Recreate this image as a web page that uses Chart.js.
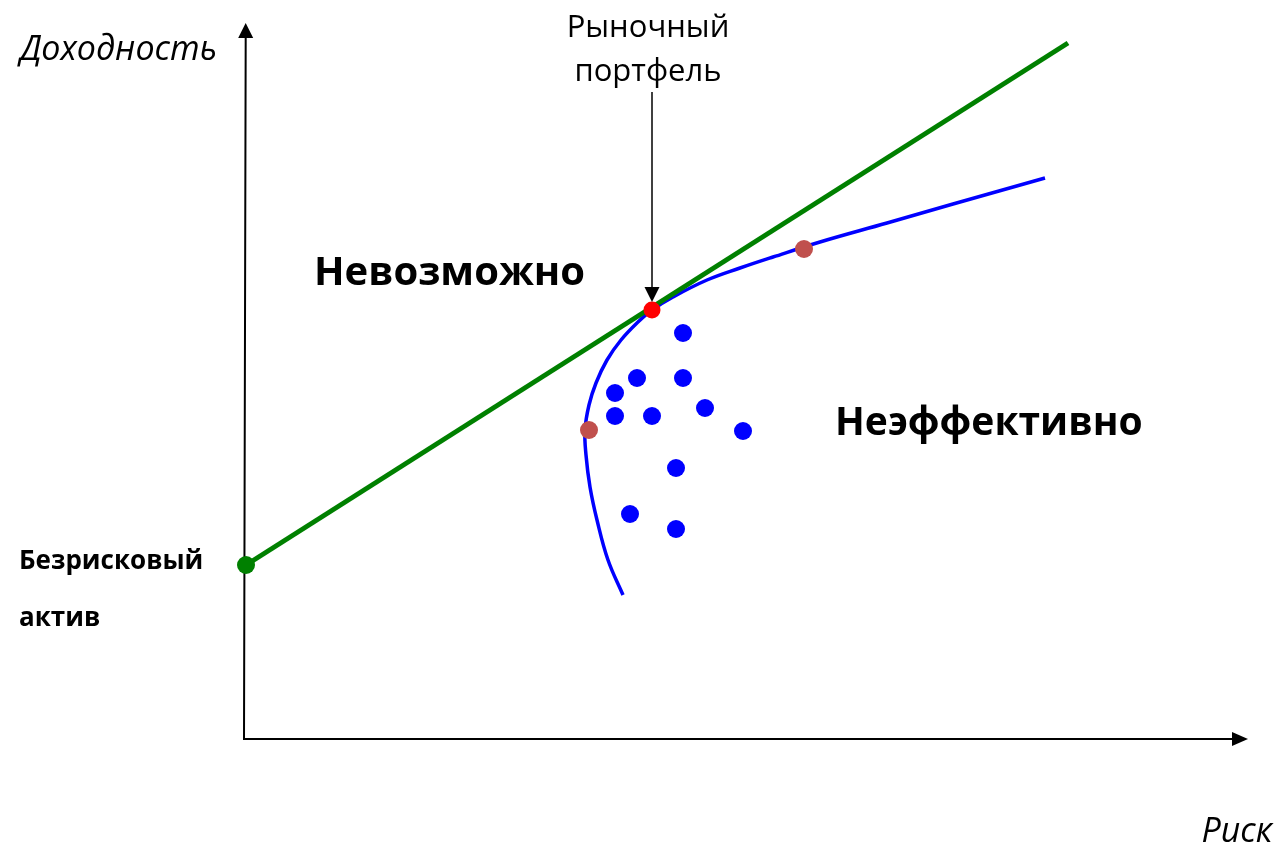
<!DOCTYPE html>
<html>
<head>
<meta charset="utf-8">
<script src="https://cdn.jsdelivr.net/npm/chart.js@4"></script>
<style>
  body { margin: 0; background: #fff; }
</style>
</head>
<body>
<canvas id="myChart" width="1279" height="849"></canvas>
<script>
  // risk / return values
  const frontierRisk   = [3.79, 3.64, 3.53, 3.46, 3.42, 3.41, 3.45, 3.52, 3.63, 3.77, 3.94, 4.08, 4.29, 4.63, 4.96, 5.29, 5.76, 6.43, 7.09, 8.01];
  const frontierReturn = [1.44, 1.79, 2.19, 2.52, 2.84, 3.09, 3.34, 3.56, 3.79, 3.99, 4.17, 4.29, 4.42, 4.59, 4.71, 4.82, 4.97, 5.16, 5.35, 5.61];

  const cmlRisk   = [0.02, 8.24];
  const cmlReturn = [1.74, 6.96];

  const assetRisk   = [4.39, 3.71, 3.93, 4.39, 3.71, 4.08, 4.61, 4.99, 4.32, 3.86, 4.32];
  const assetReturn = [4.06, 3.46, 3.61, 3.61, 3.23, 3.23, 3.31, 3.08, 2.71, 2.25, 2.10];

  const marketRisk   = [4.08];
  const marketReturn = [4.29];

  const edgeRisk   = [3.45, 5.60];
  const edgeReturn = [3.09, 4.90];

  const riskFreeRisk   = [0.02];
  const riskFreeReturn = [1.74];

  const axisEnd = { risk: 10.04, ret: 7.16 };

  function pts(xs, ys) {
    return xs.map((x, i) => ({ x: x, y: ys[i] }));
  }

  function fillText(ctx, text, font, x, y, align) {
    ctx.font = font;
    ctx.textAlign = align || 'left';
    ctx.textBaseline = 'alphabetic';
    ctx.fillStyle = '#000';
    ctx.fillText(text, x, y);
  }

  function arrowHead(ctx, tipX, tipY, dir) {
    ctx.beginPath();
    if (dir === 'up') {
      ctx.moveTo(tipX, tipY);
      ctx.lineTo(tipX - 7.5, tipY + 15);
      ctx.lineTo(tipX + 7.5, tipY + 15);
    } else if (dir === 'down') {
      ctx.moveTo(tipX, tipY);
      ctx.lineTo(tipX - 7.5, tipY - 15);
      ctx.lineTo(tipX + 7.5, tipY - 15);
    } else {
      ctx.moveTo(tipX, tipY);
      ctx.lineTo(tipX - 16, tipY - 7);
      ctx.lineTo(tipX - 16, tipY + 7);
    }
    ctx.closePath();
    ctx.fillStyle = '#000';
    ctx.fill();
  }

  const decor = {
    id: 'decor',
    beforeDatasetsDraw(chart) {
      const ctx = chart.ctx;
      const xs = chart.scales.x, ys = chart.scales.y;
      const x0 = xs.getPixelForValue(0), y0 = ys.getPixelForValue(0);
      const xTop = xs.getPixelForValue(0.017), yTop = ys.getPixelForValue(axisEnd.ret);
      const xRight = xs.getPixelForValue(axisEnd.risk);
      ctx.save();
      ctx.strokeStyle = '#000';
      ctx.lineWidth = 2;
      ctx.beginPath();
      ctx.moveTo(x0, y0);
      ctx.lineTo(xTop, yTop + 12);
      ctx.moveTo(x0 - 1, y0);
      ctx.lineTo(xRight - 12, y0);
      ctx.stroke();
      arrowHead(ctx, xTop, yTop, 'up');
      arrowHead(ctx, xRight, y0, 'right');
      ctx.restore();
    },
    afterDraw(chart) {
      const ctx = chart.ctx;
      const xs = chart.scales.x, ys = chart.scales.y;
      const mx = xs.getPixelForValue(marketRisk[0]);
      const my = ys.getPixelForValue(marketReturn[0]);
      ctx.save();
      ctx.strokeStyle = '#000';
      ctx.lineWidth = 1.5;
      ctx.beginPath();
      ctx.moveTo(mx, 92);
      ctx.lineTo(mx, my - 20);
      ctx.stroke();
      arrowHead(ctx, mx, my - 8, 'down');

      fillText(ctx, 'Доходность', 'italic 34px "Open Sans"', 20, 60);
      fillText(ctx, 'Риск', 'italic 34px "Open Sans"', 1272, 842, 'right');
      fillText(ctx, 'Рыночный', '31px "Open Sans"', 648, 37, 'center');
      fillText(ctx, 'портфель', '31px "Open Sans"', 648, 81, 'center');
      fillText(ctx, 'Невозможно', 'bold 40px "Open Sans"', 314, 285);
      fillText(ctx, 'Неэффективно', 'bold 39px "Open Sans"', 835, 435);
      fillText(ctx, 'Безрисковый', 'bold 26px "Open Sans"', 19, 569);
      fillText(ctx, 'актив', 'bold 26px "Open Sans"', 19, 626);
      ctx.restore();
    }
  };

  const ctx = document.getElementById('myChart');

  new Chart(ctx, {
    type: 'scatter',
    data: {
      datasets: [
        {
          label: 'Рыночный портфель',
          data: pts(marketRisk, marketReturn),
          backgroundColor: '#FF0000',
          borderWidth: 0,
          pointRadius: 8.5
        },
        {
          label: 'Граница',
          data: pts(edgeRisk, edgeReturn),
          backgroundColor: '#C0504D',
          borderWidth: 0,
          pointRadius: 9
        },
        {
          label: 'Безрисковый актив',
          data: pts(riskFreeRisk, riskFreeReturn),
          backgroundColor: '#008000',
          borderWidth: 0,
          pointRadius: 9
        },
        {
          label: 'Активы',
          data: pts(assetRisk, assetReturn),
          backgroundColor: '#0000FF',
          borderWidth: 0,
          pointRadius: 9
        },
        {
          label: 'CML',
          data: pts(cmlRisk, cmlReturn),
          showLine: true,
          borderColor: '#008000',
          borderWidth: 5,
          pointRadius: 0
        },
        {
          label: 'Эффективная граница',
          data: pts(frontierRisk, frontierReturn),
          showLine: true,
          borderColor: '#0000FF',
          borderWidth: 3.5,
          pointRadius: 0,
          tension: 0.4
        }
      ]
    },
    options: {
      responsive: false,
      animation: false,
      layout: { padding: 0, autoPadding: false },
      plugins: {
        legend: { display: false },
        tooltip: { enabled: false }
      },
      scales: {
        x: { type: 'linear', min: -2.44, max: 10.35, display: false },
        y: { type: 'linear', min: -1.10, max: 7.39, display: false }
      }
    },
    plugins: [decor]
  });
</script>
</body>
</html>
